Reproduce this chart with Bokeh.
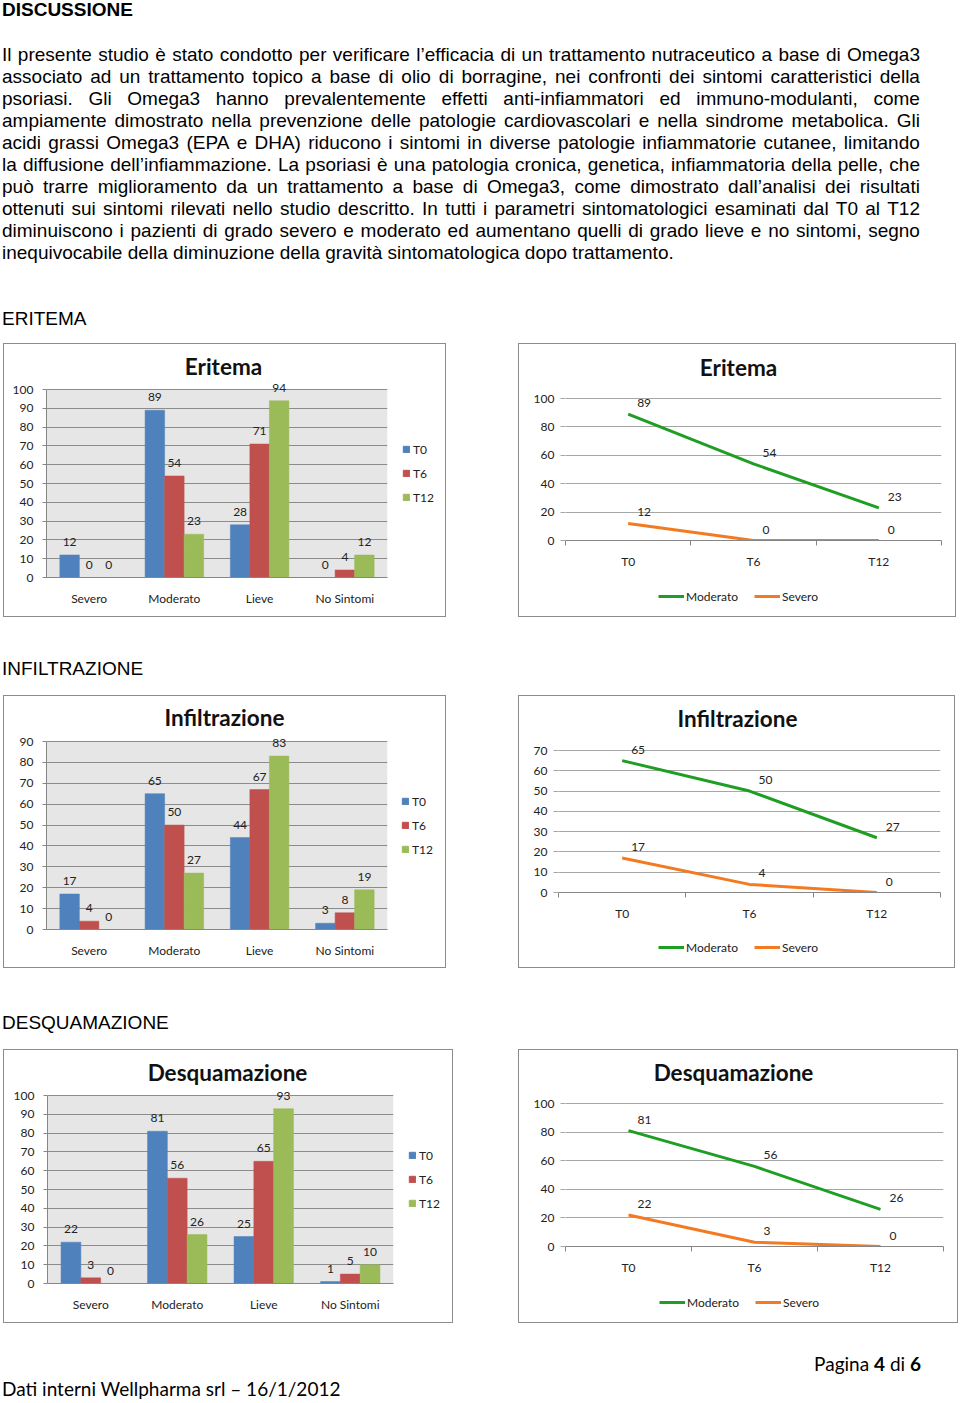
from bokeh.plotting import figure
from bokeh.models import (FactorRange, Range1d, LabelSet, Label, ColumnDataSource, Legend,
                          LegendItem, FixedTicker, Div, BoxAnnotation)
from bokeh.layouts import column, row
from bokeh.transform import dodge
from bokeh.core.properties import value
from bokeh.embed import file_html
from bokeh.resources import INLINE

# ---------------- data ----------------
severity = ["Severo", "Moderato", "Lieve", "No Sintomi"]
times = ["T0", "T6", "T12"]

eritema_T0 = [12, 89, 28, 0]
eritema_T6 = [0, 54, 71, 4]
eritema_T12 = [0, 23, 94, 12]

infiltrazione_T0 = [17, 65, 44, 3]
infiltrazione_T6 = [4, 50, 67, 8]
infiltrazione_T12 = [0, 27, 83, 19]

desquamazione_T0 = [22, 81, 25, 1]
desquamazione_T6 = [3, 56, 65, 5]
desquamazione_T12 = [0, 26, 93, 10]

eritema_moderato = [89, 54, 23]
eritema_severo = [12, 0, 0]
infiltrazione_moderato = [65, 50, 27]
infiltrazione_severo = [17, 4, 0]
desquamazione_moderato = [81, 56, 26]
desquamazione_severo = [22, 3, 0]

paragraph_lines = [
    "Il presente studio è stato condotto per verificare l’efficacia di un trattamento nutraceutico a base di Omega3",
    "associato ad un trattamento topico a base di olio di borragine, nei confronti dei sintomi caratteristici della",
    "psoriasi. Gli Omega3 hanno prevalentemente effetti anti-infiammatori ed immuno-modulanti, come",
    "ampiamente dimostrato nella prevenzione delle patologie cardiovascolari e nella sindrome metabolica. Gli",
    "acidi grassi Omega3 (EPA e DHA)  riducono i sintomi in diverse patologie infiammatorie cutanee, limitando",
    "la diffusione dell’infiammazione. La psoriasi è una patologia cronica, genetica, infiammatoria della pelle, che",
    "può trarre miglioramento da un trattamento a base di Omega3, come dimostrato dall’analisi dei  risultati",
    "ottenuti sui sintomi rilevati nello studio descritto. In tutti i parametri sintomatologici esaminati dal T0 al T12",
    "diminuiscono i pazienti di grado severo e moderato ed aumentano quelli di grado lieve e no sintomi, segno",
    "inequivocabile della diminuzione della gravità sintomatologica dopo trattamento.",
]

BLUE, RED, GREEN_BAR = "#4f81bd", "#c0504d", "#9bbb59"
LINE_GREEN, LINE_ORANGE = "#1f9e24", "#f47a22"
CFONT = "Lato"
TXT = "#222222"
BORDER = "#8c8c8c"


def fig(**kw):
    return figure(output_backend="svg", toolbar_location=None, margin=0, frame_align=False, **kw)


def axis_fonts(p):
    for ax in (p.xaxis, p.yaxis):
        ax.major_label_text_font = CFONT
        ax.major_label_text_font_size = "12px"
        ax.major_label_text_color = TXT


def legend_fig(w, h, items, loc, orientation, gw, gh, spacing, standoff):
    # small figure holding only the legend; its sample glyphs lie outside its visible ranges
    lf = fig(width=w, height=h, x_range=Range1d(0, 1), y_range=Range1d(0, 1),
             x_axis_type=None, y_axis_type=None, min_border=0)
    lf.outline_line_color = None
    lf.background_fill_color = "white"
    lf.border_fill_color = "white"
    leg_items = []
    for label, kind, color in items:
        if kind == "bar":
            r = lf.vbar(x=[-50], bottom=[-60], top=[-50], width=0.1, fill_color=color,
                        line_color=color)
        else:
            r = lf.line(x=[-60, -50], y=[-50, -50], line_color=color, line_width=3)
        leg_items.append(LegendItem(label=label, renderers=[r]))
    lf.add_layout(Legend(items=leg_items, location=loc, orientation=orientation,
                         glyph_width=gw, glyph_height=gh, label_height=16, spacing=spacing,
                         padding=0, margin=0, label_standoff=standoff,
                         label_text_font=CFONT, label_text_font_size="12px",
                         label_text_color=TXT, border_line_color=None,
                         background_fill_alpha=0))
    return lf


def title_label(p, title, xc, ymax, dx, dy):
    p.add_layout(Label(x=xc, y=ymax, x_offset=dx, y_offset=dy, text=title,
                       text_align="center", text_baseline="middle", text_font=CFONT,
                       text_font_size="22.5px", text_font_style="bold", text_color="#111111"))


def bar_box(title, t0, t6, t12, ymax, cx, cy, cw, ch, L, R, gtop, bot, tcx, tcy, legx, legy_last):
    fw = R + 3 - cx
    top_pad = 2
    ext = gtop - (cy + top_pad)
    plot_px = bot - gtop
    p = fig(x_range=FactorRange(*severity), y_range=Range1d(0, ymax + ext * ymax / plot_px),
            width=fw, height=ch, min_border_left=L - cx, min_border_right=3,
            min_border_top=top_pad, min_border_bottom=cy + ch - bot)
    p.background_fill_color = "white"
    p.border_fill_color = "white"
    p.outline_line_color = None
    plot_area = BoxAnnotation(bottom=0, top=ymax, fill_color="#e6e6e6", fill_alpha=1,
                              line_color=None, level="underlay")
    p.center = [plot_area] + list(p.center)

    src = ColumnDataSource(dict(cat=severity, T0=t0, T6=t6, T12=t12,
                                T0_s=[str(v) for v in t0], T6_s=[str(v) for v in t6],
                                T12_s=[str(v) for v in t12]))
    bw = 0.229
    offs = [-bw, 0.0, bw]
    cols = [BLUE, RED, GREEN_BAR]
    for key, off, c in zip(times, offs, cols):
        p.vbar(x=dodge("cat", off, range=p.x_range), top=key, width=bw, source=src,
               fill_color=c, line_color=c, line_width=0.5)
        p.add_layout(LabelSet(x=dodge("cat", off, range=p.x_range), y=key, text=key + "_s",
                              source=src, text_align="center", text_baseline="middle",
                              y_offset=13, text_font=value(CFONT), text_font_size=value("12px"),
                              text_color=TXT))
    title_label(p, title, len(severity) / 2, ymax, tcx - (L + R) / 2, gtop - tcy)

    p.xgrid.grid_line_color = None
    p.ygrid.grid_line_color = "#8c8c8c"
    p.yaxis.ticker = FixedTicker(ticks=list(range(0, ymax + 1, 10)))
    p.yaxis.bounds = (0, ymax)
    p.yaxis.axis_line_color = "#868686"
    p.yaxis.major_tick_line_color = "#868686"
    p.yaxis.major_tick_out = 4
    p.yaxis.major_tick_in = 0
    p.yaxis.minor_tick_line_color = None
    p.yaxis.major_label_standoff = 9
    p.xaxis.axis_line_color = "#868686"
    p.xaxis.major_tick_line_color = None
    p.xaxis.minor_tick_line_color = None
    p.xaxis.major_label_standoff = 7
    axis_fonts(p)

    lw = cx + cw - (R + 3)
    lf = legend_fig(lw, ch, [(t, "bar", c) for t, c in zip(times, cols)],
                    (legx - (R + 3), (cy + ch) - legy_last - 8), "vertical", 8, 8, 8, 3)
    return row(p, lf, margin=0)


def line_box(title, mod, sev, ymax, step, cx, cy, cw, ch, L, R, gtop, bot, tcx, tcy, legx, legy):
    fh = legy - 10 - cy
    top_pad = 2
    ext = gtop - (cy + top_pad)
    plot_px = bot - gtop
    xs = [i + 0.5 for i in range(len(times))]
    p = fig(x_range=Range1d(0, len(times)), y_range=Range1d(0, ymax + ext * ymax / plot_px),
            width=cw, height=fh, min_border_left=L - cx, min_border_right=cx + cw - R,
            min_border_top=top_pad, min_border_bottom=fh - (bot - cy))
    p.background_fill_color = "white"
    p.border_fill_color = "white"
    p.outline_line_color = None
    src = ColumnDataSource(dict(x=xs, mod=mod, sev=sev,
                                mod_s=[str(v) for v in mod], sev_s=[str(v) for v in sev]))
    p.line("x", "mod", source=src, line_color=LINE_GREEN, line_width=3)
    p.line("x", "sev", source=src, line_color=LINE_ORANGE, line_width=3)
    for key in ["mod", "sev"]:
        p.add_layout(LabelSet(x="x", y=key, text=key + "_s", source=src, text_align="left",
                              text_baseline="middle", x_offset=9, y_offset=11,
                              text_font=value(CFONT), text_font_size=value("12px"),
                              text_color=TXT))
    title_label(p, title, len(times) / 2, ymax, tcx - (L + R) / 2, gtop - tcy)

    p.xgrid.grid_line_color = None
    p.ygrid.grid_line_color = "#a6a6a6"
    p.yaxis.ticker = FixedTicker(ticks=list(range(0, ymax + 1, step)))
    p.yaxis.axis_line_color = None
    p.yaxis.major_tick_line_color = "#a6a6a6"
    p.yaxis.major_tick_out = 5
    p.yaxis.major_tick_in = 0
    p.yaxis.minor_tick_line_color = None
    p.yaxis.major_label_standoff = 6
    p.xaxis.ticker = FixedTicker(ticks=xs, minor_ticks=list(range(len(times) + 1)))
    p.xaxis.major_label_overrides = {x: t for x, t in zip(xs, times)}
    p.xaxis.axis_line_color = "#868686"
    p.xaxis.major_tick_line_color = None
    p.xaxis.minor_tick_line_color = "#868686"
    p.xaxis.minor_tick_out = 5
    p.xaxis.minor_tick_in = 0
    p.xaxis.major_label_standoff = 7
    axis_fonts(p)

    lf = legend_fig(cw, ch - fh, [("Moderato", "line", LINE_GREEN), ("Severo", "line", LINE_ORANGE)],
                    (legx - cx, (cy + ch) - legy - 8), "horizontal", 26, 12, 16, 2)
    return column(p, lf, margin=0)


# ---------------- page text & box borders ----------------
BODY = "font-family:'Liberation Sans',Arial,sans-serif;color:#000;font-size:19px;line-height:22px;"


def hline(x0, x1, y):
    return (f'<div style="position:absolute;left:{x0}px;top:{y}px;width:{x1 - x0 + 1}px;'
            f'height:1px;background:{BORDER};"></div>')


def vline(x, h):
    return (f'<div style="position:absolute;left:{x}px;top:0px;width:1px;height:{h}px;'
            f'background:{BORDER};"></div>')


def block(width, height, inner, style=BODY):
    return Div(text=f'<div style="position:relative;width:{width}px;height:{height}px;{style}">{inner}</div>',
               width=width, height=height, margin=0)


def just_line(text, top, justify=True):
    if justify:
        spans = "".join(f"<span>{wd}</span>" for wd in text.split())
        return (f'<div style="position:absolute;left:2px;top:{top}px;width:918px;display:flex;'
                f'justify-content:space-between;white-space:nowrap;">{spans}</div>')
    return f'<div style="position:absolute;left:2px;top:{top}px;white-space:nowrap;">{text}</div>'


# box border lines (x0, x1 of left box, x0, x1 of right box, top line y, bottom line y)
BOXES = [(3, 445, 518, 955, 343, 616),
         (3, 445, 518, 954, 695, 967),
         (3, 452, 518, 957, 1049, 1322)]


def box_hlines(i, y_local):
    a0, a1, b0, b1, _, _ = BOXES[i]
    return hline(a0, a1, y_local) + hline(b0, b1, y_local)


header_inner = '<div style="position:absolute;left:2px;top:-1px;font-weight:bold;">DISCUSSIONE</div>'
for i, ln in enumerate(paragraph_lines):
    header_inner += just_line(ln, 44 + 22 * i, justify=(i < len(paragraph_lines) - 1))
header_inner += '<div style="position:absolute;left:2px;top:308px;">ERITEMA</div>'
header_inner += box_hlines(0, 343)
header = block(960, 344, header_inner)

mid1 = block(960, 80, box_hlines(0, 0) + box_hlines(1, 79) +
             '<div style="position:absolute;left:2px;top:42px;">INFILTRAZIONE</div>')
mid2 = block(960, 83, box_hlines(1, 0) + box_hlines(2, 82) +
             '<div style="position:absolute;left:2px;top:45px;">DESQUAMAZIONE</div>')
FOOT = "font-family:Lato,sans-serif;color:#000;font-size:19px;line-height:22px;"
footer = block(960, 81, box_hlines(2, 0) +
               '<div style="position:absolute;right:39px;top:31px;white-space:nowrap;">Pagina <b>4</b> di <b>6</b></div>'
               '<div style="position:absolute;left:2px;top:56px;white-space:nowrap;">Dati interni Wellpharma srl – 16/1/2012</div>',
               FOOT)


def chart_row(i, left_box, right_box):
    a0, a1, b0, b1, ytop, ybot = BOXES[i]
    h = ybot - ytop - 1
    d1 = block(a0 + 1, h, vline(a0, h))
    d2 = block(b0 + 1 - a1, h, vline(0, h) + vline(b0 - a1, h))
    d3 = block(960 - b1, h, vline(0, h))
    return row(d1, left_box, d2, right_box, d3, margin=0)


# ---------------- charts ----------------
b1 = bar_box("Eritema", eritema_T0, eritema_T6, eritema_T12, 100,
             4, 344, 441, 272, 46, 387, 389, 577, 223, 366, 402, 497)
l1 = line_box("Eritema", eritema_moderato, eritema_severo, 100, 20,
              519, 344, 436, 272, 565, 941, 398, 540, 738, 367, 658, 596)
b2 = bar_box("Infiltrazione", infiltrazione_T0, infiltrazione_T6, infiltrazione_T12, 90,
             4, 696, 441, 271, 46, 387, 741, 929, 224, 717, 401, 849)
l2 = line_box("Infiltrazione", infiltrazione_moderato, infiltrazione_severo, 70, 10,
              519, 696, 435, 271, 558, 940, 750, 892, 737, 718, 658, 947)
b3 = bar_box("Desquamazione", desquamazione_T0, desquamazione_T6, desquamazione_T12, 100,
             4, 1050, 448, 272, 47, 393, 1095, 1283, 227, 1072, 408, 1203)
l3 = line_box("Desquamazione", desquamazione_moderato, desquamazione_severo, 100, 20,
              519, 1050, 438, 272, 565, 943, 1103, 1246, 733, 1072, 659, 1302)

page = column(header, chart_row(0, b1, l1), mid1, chart_row(1, b2, l2), mid2,
              chart_row(2, b3, l3), footer, margin=0)

with open("out.html", "w", encoding="utf-8") as f:
    f.write(file_html(page, INLINE, title="Discussione"))
